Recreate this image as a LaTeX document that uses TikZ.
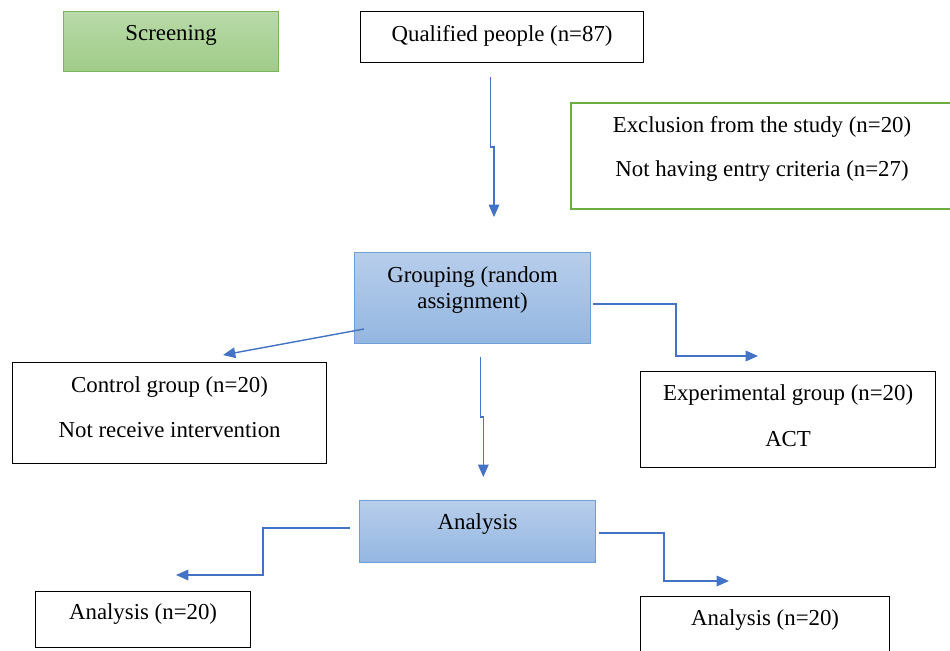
\documentclass[tikz,border=0pt]{standalone}
\usepackage{fontspec}
\setmainfont{Liberation Serif}
\usetikzlibrary{arrows.meta,positioning}
\definecolor{greentop}{HTML}{B9DAA9}
\definecolor{greenbot}{HTML}{9FCB87}
\definecolor{greenline}{HTML}{7AB55C}
\definecolor{exclline}{HTML}{6AAF3F}
\definecolor{bluetop}{HTML}{B8CEEB}
\definecolor{bluebot}{HTML}{93B6E1}
\definecolor{blueline}{HTML}{6F9FD8}
\definecolor{arrowblue}{HTML}{4472C4}

\begin{document}
\begin{tikzpicture}[
  x=0.02cm, y=-0.02cm,
  font=\fontsize{13}{15}\selectfont,
  box/.style={draw=black, line width=0.7pt, fill=white, align=center, inner sep=0pt, anchor=north west, text height=9pt},
  greenbox/.style={box, draw=greenline, top color=greentop, bottom color=greenbot},
  bluebox/.style={box, draw=blueline, top color=bluetop, bottom color=bluebot},
  arrow/.style={-{Triangle[length=7pt,width=6pt]}, line width=0.8pt, arrowblue}
]
\useasboundingbox (0,0) rectangle (950,650);
\clip (0,0) rectangle (950,650);
\node[greenbox, minimum width=4.3cm, minimum height=1.2cm, text depth=10.5pt] (screening) at (63,11) {Screening};
\node[box, minimum width=5.66cm, minimum height=1.02cm, text depth=3.9pt] (qualified) at (360,11) {Qualified people (n=87)};
\node[box, draw=exclline, line width=1.2pt, minimum width=7.64cm, minimum height=2.12cm, text height=26.8pt, text depth=3pt] (exclusion) at (570,102) {Exclusion from the study (n=20)\\[10.5pt]Not having entry criteria (n=27)};
\node[bluebox, minimum width=4.72cm, minimum height=1.82cm, text height=14.9pt, text depth=3pt] (grouping) at (354,252) {Grouping (random\\assignment)};
\node[box, minimum width=6.28cm, minimum height=2.02cm, text height=30.8pt, text depth=3pt] (control) at (12,362) {Control group (n=20)\\[10.5pt]Not receive intervention};
\node[box, minimum width=5.9cm, minimum height=1.92cm, text height=33.6pt, text depth=3pt] (experimental) at (640,371) {Experimental group (n=20)\\[11pt]ACT};
\node[bluebox, minimum width=4.72cm, minimum height=1.24cm, text depth=11.3pt] (analysis) at (359,500) {Analysis};
\node[box, minimum width=4.3cm, minimum height=1.12cm, text depth=9pt] (analysisL) at (35,591) {Analysis (n=20)};
\node[box, minimum width=4.98cm, minimum height=1.14cm, text depth=9pt] (analysisR) at (640,596) {Analysis (n=20)};
% free arrow ends
\coordinate (qualOut) at (490.7,77);
\coordinate (groupIn) at (494,217);
\coordinate (groupL) at (364,329);
\coordinate (controlIn) at (223,355);
\coordinate (groupR) at (593,304);
\coordinate (expIn) at (758,356);
\coordinate (groupOut) at (480.7,357);
\coordinate (analysisIn) at (483.3,477);
\coordinate (analysisOutL) at (350,528);
\coordinate (resultL) at (176,575);
\coordinate (analysisOutR) at (599,533);
\coordinate (resultR) at (729,581);
\draw[arrow] (qualOut) -- (490.7,147) -- (494,147) -- (groupIn);
\draw[arrow] (groupL) -- (controlIn);
\draw[arrow] (groupR) -| (676,356) -- (expIn);
\draw[arrow] (groupOut) -- (480.7,417) -- (483.3,417) -- (analysisIn);
\draw[arrow] (analysisOutL) -| (263,575) -- (resultL);
\draw[arrow] (analysisOutR) -| (664,581) -- (resultR);
\end{tikzpicture}
\end{document}
